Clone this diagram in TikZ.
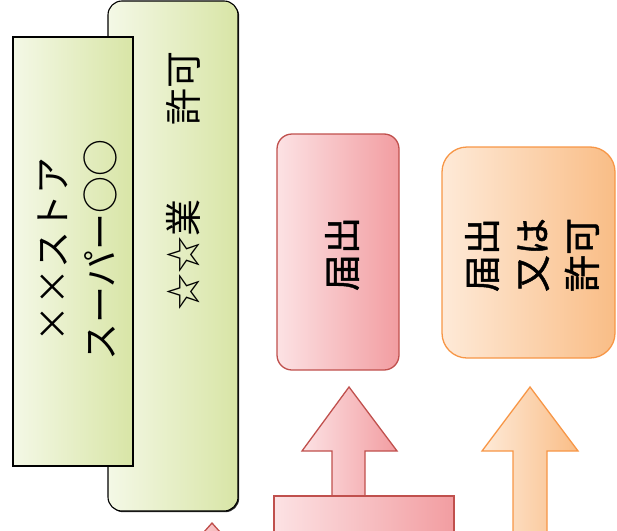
\documentclass[tikz,border=0pt]{standalone}
\usepackage{fontspec}
\newfontfamily\cjk{Noto Sans CJK JP}
\newfontfamily\cjkb[FakeBold=1.2]{Noto Sans CJK JP}
\usetikzlibrary{shadows}
\definecolor{grnL}{HTML}{F4F8E6}
\definecolor{grnR}{HTML}{D8E5A6}
\definecolor{redL}{HTML}{FCE2E4}
\definecolor{redR}{HTML}{F29DA1}
\definecolor{redO}{HTML}{C0504D}
\definecolor{orgL}{HTML}{FEEAD8}
\definecolor{orgR}{HTML}{F9BD86}
\definecolor{orgO}{HTML}{F79646}
\begin{document}
\begin{tikzpicture}[x=1pt,y=-1pt,
  greenbox/.style={draw=black, line width=1.1pt, left color=grnL, right color=grnR, inner sep=0pt},
  redbox/.style={draw=redO, line width=1.3pt, left color=redL, right color=redR, inner sep=0pt},
  orgbox/.style={draw=orgO, line width=1.3pt, left color=orgL, right color=orgR, inner sep=0pt},
  redarrow/.style={draw=redO, line width=1.3pt, left color=redL, right color=redR, line join=miter},
  orgarrow/.style={draw=orgO, line width=1.3pt, left color=orgL, right color=orgR, line join=miter},
  vtext/.style={rotate=90, align=center, inner sep=0pt, text=black},
]
\useasboundingbox (0,0) rectangle (617,530);
\clip (0,0) rectangle (617,530);

% green boxes
\node[greenbox, rounded corners=14pt, minimum width=130pt, minimum height=510pt,
  drop shadow={shadow xshift=1.2pt, shadow yshift=-1.2pt, fill=black, opacity=0.85}] (back) at (173,256) {};
\node[greenbox, minimum width=120pt, minimum height=429pt] (front) at (73,251.5) {};

\node[vtext, font=\cjk\fontsize{37}{48}\selectfont] (frontTxt) at (77,250) {××ストア\\スーパー○○};
\node[vtext, font=\cjk\fontsize{37}{48}\selectfont] (backTxt) at (183,181) {☆☆業　　許可};

% red / orange boxes
\node[redbox, rounded corners=15pt, minimum width=122pt, minimum height=236pt] (todoke) at (338,252) {};
\node[vtext, font=\cjkb\fontsize{37}{48}\selectfont] (todokeTxt) at (342,254) {届出};

\node[orgbox, rounded corners=25pt, minimum width=173pt, minimum height=211pt] (kyoka) at (528.5,252.5) {};
\node[vtext, font=\cjkb\fontsize{37}{50}\selectfont] (kyokaTxt) at (532,255) {届出\\又は\\許可};

% block arrows
\draw[redarrow] (349,387) -- (397,451) -- (365,451) -- (365,497) -- (332,497) -- (332,451) -- (302,451) -- cycle;
\node[redbox, minimum width=180pt, minimum height=50pt] (base) at (364,521) {};
\draw[orgarrow] (530,387) -- (578,451) -- (547,451) -- (547,545) -- (513,545) -- (513,451) -- (482,451) -- cycle;
\draw[redarrow] (212,523) -- (245,560) -- (179,560) -- cycle;
\end{tikzpicture}
\end{document}
